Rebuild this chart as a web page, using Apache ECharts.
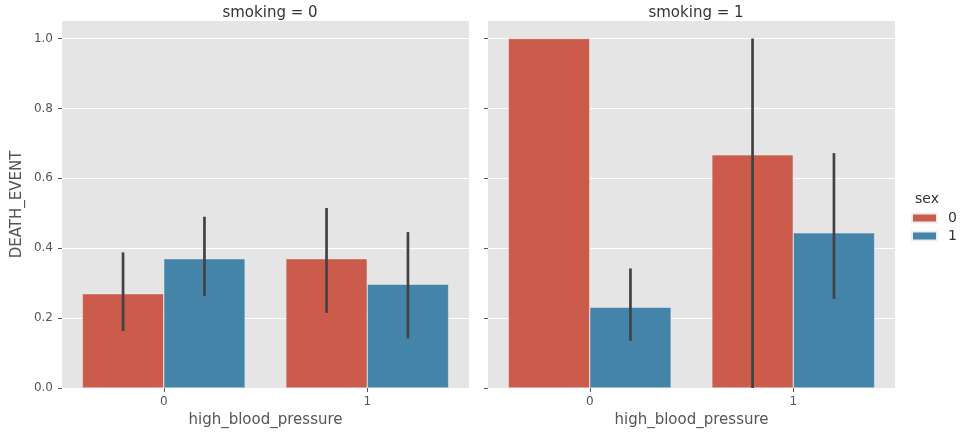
<!DOCTYPE html>
<html>
<head>
<meta charset="utf-8">
<script src="https://cdn.jsdelivr.net/npm/echarts@6/dist/echarts.min.js"></script>
<style>
  html, body { margin: 0; padding: 0; background: #fff; }
  #chart { width: 960px; height: 438px; }
</style>
</head>
<body>
<div id="chart"></div>
<script>
// facet titles, categories, legend
var panels = ['smoking = 0', 'smoking = 1'];
var categories = ['0', '1'];
var sexes = ['0', '1'];
var yTicks = [0, 0.2, 0.4, 0.6, 0.8, 1.0];

// mean DEATH_EVENT per high_blood_pressure, by panel and sex
var s0Sex0 = [0.27, 0.37];
var s0Sex1 = [0.37, 0.297];
var s1Sex0 = [1.0, 0.667];
var s1Sex1 = [0.231, 0.444];

// confidence intervals (low / high)
var s0Sex0Low = [0.163, 0.215], s0Sex0High = [0.388, 0.515];
var s0Sex1Low = [0.263, 0.142], s0Sex1High = [0.49, 0.446];
var s1Sex0Low = [1.0, 0.0],     s1Sex0High = [1.0, 1.0];
var s1Sex1Low = [0.135, 0.255], s1Sex1High = [0.342, 0.672];

var colors = ['#CB5B4B', '#4584A9'];
var font = 'DejaVu Sans';

var chartDom = document.getElementById('chart');
var myChart = echarts.init(chartDom);

function errData(low, high, sexIdx) {
  return low.map(function (l, i) { return [i, l, high[i], sexIdx]; });
}

function renderErr(params, api) {
  var cat = api.value(0);
  var band = api.size([1, 0])[0];
  var off = (api.value(3) === 0 ? -1 : 1) * band * 0.8 / 4;
  var p1 = api.coord([cat, api.value(1)]);
  var p2 = api.coord([cat, api.value(2)]);
  return {
    type: 'line',
    shape: { x1: p1[0] + off, y1: p1[1], x2: p2[0] + off, y2: p2[1] },
    style: { stroke: '#424242', lineWidth: 2.7 }
  };
}

function xAxisFor(idx) {
  return {
    type: 'category',
    gridIndex: idx,
    data: categories,
    name: 'high_blood_pressure',
    nameLocation: 'middle',
    nameGap: 24,
    nameTextStyle: { fontFamily: font, fontSize: 15, color: '#555' },
    axisLine: { show: false },
    axisTick: { show: true, alignWithLabel: true, length: 4, lineStyle: { color: '#555' } },
    axisLabel: { fontFamily: font, fontSize: 12, color: '#555', margin: 8 },
    splitLine: { show: false }
  };
}

function yAxisFor(idx) {
  return {
    type: 'value',
    gridIndex: idx,
    min: 0,
    max: 1.05,
    interval: 0.2,
    name: idx === 0 ? 'DEATH_EVENT' : '',
    nameLocation: 'middle',
    nameGap: 37,
    nameTextStyle: { fontFamily: font, fontSize: 15, color: '#555' },
    axisLine: { show: false },
    axisTick: { show: true, length: 4, lineStyle: { color: '#555' }, customValues: yTicks },
    axisLabel: {
      show: idx === 0, fontFamily: font, fontSize: 12, color: '#555', margin: 9,
      customValues: yTicks,
      formatter: function (v) { return v.toFixed(1); }
    },
    splitLine: { show: true, lineStyle: { color: '#ffffff', width: 1 } }
  };
}

function barSeries(name, data, gi) {
  return {
    name: name,
    type: 'bar',
    xAxisIndex: gi,
    yAxisIndex: gi,
    data: data,
    barGap: '0%',
    barCategoryGap: '20%',
    itemStyle: { borderColor: '#eeeeee', borderWidth: 0.5 },
    z: 2
  };
}

function errSeries(low, high, sexIdx, gi) {
  return {
    type: 'custom',
    xAxisIndex: gi,
    yAxisIndex: gi,
    data: errData(low, high, sexIdx),
    renderItem: renderErr,
    silent: true,
    z: 5
  };
}

var titleStyle = { fontFamily: font, fontSize: 15, fontWeight: 'normal', color: '#333' };

var option = {
  animation: false,
  color: colors,
  title: [
    { text: panels[0], left: 265, top: 1, textAlign: 'center', textStyle: titleStyle },
    { text: panels[1], left: 691, top: 1, textAlign: 'center', textStyle: titleStyle },
    { text: 'sex', left: 922, top: 187, textAlign: 'center',
      textStyle: { fontFamily: font, fontSize: 14, fontWeight: 'normal', color: '#333' } }
  ],
  legend: {
    data: sexes,
    orient: 'vertical',
    left: 906,
    top: 206,
    itemWidth: 25,
    itemHeight: 9,
    itemGap: 4,
    icon: 'rect',
    textStyle: { fontFamily: font, fontSize: 14, color: '#333', padding: [0, 0, 0, 6] }
  },
  grid: [
    { left: 62, top: 21, width: 407, height: 367, show: true, backgroundColor: '#E5E5E5', borderWidth: 0 },
    { left: 488, top: 21, width: 407, height: 367, show: true, backgroundColor: '#E5E5E5', borderWidth: 0 }
  ],
  xAxis: [xAxisFor(0), xAxisFor(1)],
  yAxis: [yAxisFor(0), yAxisFor(1)],
  series: [
    barSeries(sexes[0], s0Sex0, 0),
    barSeries(sexes[1], s0Sex1, 0),
    barSeries(sexes[0], s1Sex0, 1),
    barSeries(sexes[1], s1Sex1, 1),
    errSeries(s0Sex0Low, s0Sex0High, 0, 0),
    errSeries(s0Sex1Low, s0Sex1High, 1, 0),
    errSeries(s1Sex0Low, s1Sex0High, 0, 1),
    errSeries(s1Sex1Low, s1Sex1High, 1, 1)
  ]
};

option && myChart.setOption(option);
</script>
</body>
</html>
